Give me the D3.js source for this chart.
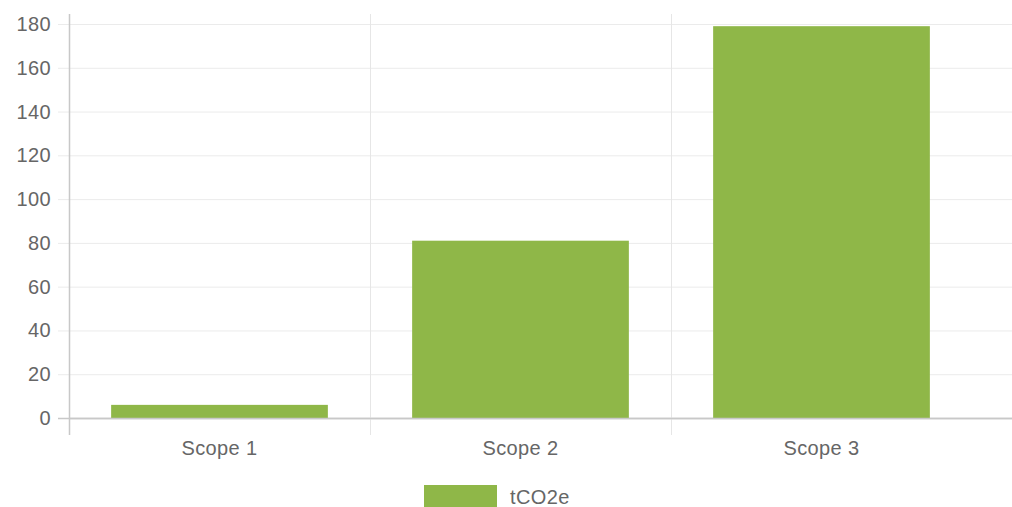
<!DOCTYPE html>
<html><head><meta charset="utf-8">
<script src="https://cdn.jsdelivr.net/npm/d3@7"></script>
<style>body{margin:0;background:#fff}svg{display:block}</style>
</head><body>
<svg id="c" width="1012" height="507"></svg>
<script>
const categories = ["Scope 1", "Scope 2", "Scope 3"];
const values = [6, 81, 179];
const yTicks = [0, 20, 40, 60, 80, 100, 120, 140, 160, 180];
const seriesName = "tCO2e";

const svg = d3.select("#c");
const pLeft = 69, pRight = 972, pTop = 24, pBottom = 418;
const x = d3.scaleBand().domain(categories).range([pLeft, pRight]).paddingInner(0).paddingOuter(0);
const y = d3.scaleLinear().domain([0, 180]).range([pBottom, pTop]);
const font = "'Liberation Sans', Arial, Helvetica, sans-serif";
const barColor = "#8fb748";
const fs = 20, ls = "0.4px", txtColor = "#666";

// horizontal gridlines
svg.append("g").selectAll("line").data(yTicks).join("line")
  .attr("x1", pLeft - 11).attr("x2", 1012)
  .attr("y1", d => y(d) + 0.5).attr("y2", d => y(d) + 0.5)
  .attr("stroke", d => d === 0 ? "#c8c8c8" : "#ebebeb").attr("stroke-width", d => d === 0 ? 1.5 : 1);

// vertical gridlines at band boundaries
const bounds = categories.map(c => x(c));
svg.append("g").selectAll("line").data(bounds).join("line")
  .attr("x1", d => d + 0.5).attr("x2", d => d + 0.5)
  .attr("y1", 14).attr("y2", 435)
  .attr("stroke", (d, i) => i === 0 ? "#c8c8c8" : "#e6e6e6").attr("stroke-width", (d, i) => i === 0 ? 1.5 : 1);

// bars
const bw = x.bandwidth() * 0.72;
svg.append("g").selectAll("rect").data(values).join("rect")
  .attr("x", (d, i) => x(categories[i]) + (x.bandwidth() - bw) / 2)
  .attr("width", bw)
  .attr("y", d => y(d))
  .attr("height", d => y(0) - y(d))
  .attr("fill", barColor);

// redraw baseline over bars
svg.append("line").attr("x1", pLeft).attr("x2", 1012).attr("y1", y(0) + 0.5).attr("y2", y(0) + 0.5)
  .attr("stroke", "#c8c8c8").attr("stroke-width", 1.5);

// y labels
svg.append("g").selectAll("text").data(yTicks).join("text")
  .attr("x", 51).attr("y", d => y(d)).attr("dy", "0.35em")
  .attr("text-anchor", "end").attr("font-family", font).attr("font-size", fs)
  .attr("letter-spacing", ls).attr("fill", txtColor)
  .text(d => d);

// x labels
svg.append("g").selectAll("text").data(categories).join("text")
  .attr("x", d => x(d) + x.bandwidth() / 2).attr("y", 448).attr("dy", "0.35em")
  .attr("text-anchor", "middle").attr("font-family", font).attr("font-size", fs)
  .attr("letter-spacing", ls).attr("fill", txtColor)
  .text(d => d);

// legend
svg.append("rect").attr("x", 424).attr("y", 485).attr("width", 73).attr("height", 24).attr("fill", barColor);
svg.append("text").attr("x", 510).attr("y", 497).attr("dy", "0.35em")
  .attr("font-family", font).attr("font-size", fs).attr("letter-spacing", ls)
  .attr("fill", txtColor).text(seriesName);
</script>
</body></html>
